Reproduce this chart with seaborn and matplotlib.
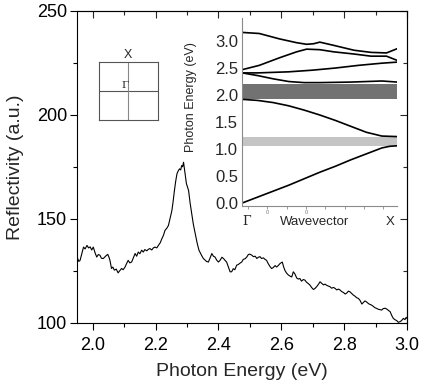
import matplotlib
matplotlib.use("Agg")
import matplotlib.pyplot as plt
import seaborn as sns
import pandas as pd

# ---------------- data ----------------
spec_energy = [1.950,1.952,1.956,1.960,1.965,1.971,1.976,1.982,1.987,1.992,1.997,2.002,2.008,2.013,2.018,2.023,2.028,2.034,2.041,2.048,
 2.052,2.055,2.060,2.064,2.069,2.075,2.081,2.086,2.092,2.097,2.103,2.108,2.113,2.118,2.124,2.130,2.135,2.140,2.145,2.150,
 2.156,2.161,2.166,2.172,2.177,2.182,2.188,2.193,2.198,2.204,2.209,2.215,2.220,2.225,2.230,2.236,2.241,2.246,2.252,2.256,
 2.260,2.264,2.268,2.272,2.276,2.280,2.283,2.286,2.289,2.292,2.294,2.298,2.301,2.305,2.310,2.315,2.320,2.326,2.332,2.338,
 2.341,2.346,2.352,2.357,2.362,2.368,2.373,2.379,2.384,2.389,2.395,2.400,2.405,2.411,2.416,2.421,2.426,2.431,2.437,2.442,
 2.447,2.452,2.458,2.463,2.468,2.474,2.479,2.485,2.490,2.495,2.500,2.506,2.511,2.517,2.522,2.527,2.532,2.537,2.543,2.548,
 2.553,2.558,2.564,2.569,2.574,2.580,2.585,2.590,2.596,2.603,2.607,2.611,2.616,2.622,2.627,2.633,2.638,2.643,2.649,2.654,
 2.659,2.664,2.670,2.675,2.680,2.686,2.691,2.696,2.702,2.707,2.712,2.718,2.723,2.728,2.734,2.739,2.744,2.750,2.755,2.760,
 2.766,2.771,2.776,2.782,2.787,2.792,2.798,2.803,2.808,2.813,2.818,2.824,2.829,2.834,2.840,2.845,2.850,2.856,2.861,2.866,
 2.871,2.877,2.882,2.887,2.893,2.898,2.903,2.908,2.914,2.919,2.924,2.930,2.935,2.940,2.946,2.951,2.956,2.961,2.967,2.972,
 2.977,2.982,2.988,2.993,2.997,3.000]
spec_refl = [133.5,131.0,129.5,130.0,133.0,136.4,135.5,137.2,136.0,136.5,135.0,136.4,133.5,131.6,132.8,132.5,131.0,130.9,132.0,132.9,
 131.5,130.0,126.1,126.8,125.3,125.8,124.0,125.0,126.1,125.5,126.8,128.5,130.0,128.8,129.2,131.5,133.3,132.0,134.0,133.2,
 134.9,134.0,135.2,134.6,135.3,135.7,135.0,136.0,136.4,136.0,137.2,138.5,140.4,142.0,144.4,145.5,146.8,150.0,154.0,158.5,
 163.6,168.0,171.6,173.0,174.0,173.5,175.6,175.0,177.2,174.0,171.6,167.0,165.5,163.6,157.5,152.4,147.5,142.9,138.5,134.9,
 134.0,132.5,130.9,130.2,129.5,129.2,131.0,133.3,132.0,131.6,130.0,129.2,130.0,131.5,130.9,130.0,129.2,127.0,124.5,124.5,
 126.0,125.5,127.7,128.0,128.6,129.2,130.5,130.8,131.6,132.8,133.0,132.5,131.8,132.0,130.9,131.5,131.8,130.9,131.2,130.5,
 130.0,128.5,127.0,126.1,126.5,127.5,126.8,127.5,128.5,129.2,127.0,125.3,124.0,123.0,122.5,122.0,124.5,123.5,121.5,121.0,
 121.3,120.0,120.8,120.5,119.5,118.8,118.1,117.0,116.0,116.5,117.3,118.5,119.7,119.0,118.2,118.6,118.0,117.6,117.3,116.6,
 117.0,116.5,115.8,116.2,115.7,115.0,114.5,113.8,114.3,115.2,114.9,114.0,113.3,112.8,112.0,111.7,110.8,109.0,109.8,110.5,
 110.0,109.2,108.8,108.5,107.8,107.2,106.9,106.5,106.3,106.1,106.8,107.0,106.6,106.0,105.3,103.5,102.1,101.5,101.0,100.2,
 100.5,101.0,102.1,101.5,102.6,102.0]

main_xticks = [2.0, 2.2, 2.4, 2.6, 2.8, 3.0]
main_xtick_labels = ["2.0", "2.2", "2.4", "2.6", "2.8", "3.0"]
main_yticks = [100, 150, 200, 250]

# photonic band structure (inset), wavevector from Gamma (0) to X (1)
band1_k = [0.0, 0.11, 0.24, 0.35, 0.415, 0.46, 0.50, 0.59, 0.72, 0.83, 0.93, 1.0]
band1_e = [3.16, 3.14, 3.04, 2.97, 2.94, 2.95, 2.98, 2.92, 2.83, 2.79, 2.78, 2.86]
band2_k = [0.0, 0.11, 0.24, 0.35, 0.415, 0.50, 0.59, 0.72, 0.83, 0.93, 1.0]
band2_e = [2.47, 2.55, 2.69, 2.80, 2.85, 2.84, 2.80, 2.76, 2.72, 2.72, 2.64]
band3_k = [0.0, 0.1, 0.3, 0.45, 0.6, 0.75, 0.9, 1.0]
band3_e = [2.41, 2.41, 2.43, 2.46, 2.50, 2.55, 2.59, 2.61]
band4_k = [0.0, 0.1, 0.2, 0.3, 0.4, 0.5, 0.7, 0.9, 1.0]
band4_e = [2.41, 2.36, 2.30, 2.25, 2.23, 2.23, 2.24, 2.26, 2.24]
band5_k = [0.0, 0.1, 0.2, 0.3, 0.4, 0.5, 0.6, 0.7, 0.8, 0.9, 1.0]
band5_e = [1.92, 1.90, 1.86, 1.80, 1.72, 1.63, 1.53, 1.42, 1.31, 1.24, 1.23]
band6_k = [0.0, 0.1, 0.2, 0.3, 0.4, 0.5, 0.6, 0.7, 0.8, 0.9, 0.95, 1.0]
band6_e = [0.0, 0.11, 0.22, 0.33, 0.45, 0.57, 0.68, 0.80, 0.91, 1.02, 1.05, 1.06]
gap_full = (1.92, 2.20)      # dark grey stop band
gap_partial = (1.06, 1.22)   # light grey stop band
inset_yticks = [0.0, 0.5, 1.0, 1.5, 2.0, 2.5, 3.0]
inset_xticks = [0.036, 0.161, 0.286, 0.41, 0.536, 0.66, 0.786, 0.91]

# ---------------- style ----------------
sns.set_style("ticks")
plt.rcParams['font.family'] = ['Liberation Sans', 'DejaVu Sans']
plt.rcParams['axes.linewidth'] = 0.8

fig = plt.figure(figsize=(4.25, 3.87), dpi=100)

# main axes
ax = fig.add_axes([0.181, 0.166, 0.777, 0.806])
sns.lineplot(x=spec_energy, y=spec_refl, ax=ax, color='black', lw=0.8,
             sort=False, estimator=None)
ax.set_xlim(1.95, 3.0)
ax.set_ylim(100, 250)
ax.set_xticks(main_xticks)
ax.set_xticklabels(main_xtick_labels)
ax.set_xticks([2.1, 2.3, 2.5, 2.7, 2.9], minor=True)
ax.set_yticks(main_yticks)
ax.set_yticks([125, 175, 225], minor=True)
for s in ax.spines.values():
    s.set_color('black')
    s.set_linewidth(0.8)
ax.tick_params(which='major', direction='out', length=5, width=0.8,
               labelsize=13, colors='black', pad=2)
ax.tick_params(axis='x', which='major', pad=5)
ax.tick_params(which='minor', direction='out', length=3, width=0.8, colors='black')
ax.set_xlabel("Photon Energy (eV)", fontsize=14, labelpad=7)
ax.set_ylabel("Reflectivity (a.u.)", fontsize=14, labelpad=9)

top = ax.secondary_xaxis('top')
top.set_xticks(main_xticks)
top.set_xticks([2.1, 2.3, 2.5, 2.7, 2.9], minor=True)
top.tick_params(which='both', direction='in', labeltop=False, width=0.8)
top.tick_params(which='major', length=5)
top.tick_params(which='minor', length=3)
right = ax.secondary_yaxis('right')
right.set_yticks(main_yticks)
right.set_yticks([125, 175, 225], minor=True)
right.tick_params(which='both', direction='in', labelright=False, width=0.8)
right.tick_params(which='major', length=5)
right.tick_params(which='minor', length=3)

# Brillouin zone sketch
bz = fig.add_axes([0.233, 0.690, 0.138, 0.150])
bz.set_xlim(-1, 1); bz.set_ylim(-1, 1)
bz.set_xticks([]); bz.set_yticks([])
for s in bz.spines.values():
    s.set_color('#555555'); s.set_linewidth(0.8)
bz.axhline(0, color='#555555', lw=0.8)
bz.axvline(-0.02, color='#888888', lw=0.8)
bz.text(-0.02, 1.02, "X", ha='center', va='bottom', fontsize=9)
bz.text(-0.1, 0.02, "Γ", ha='center', va='bottom', fontsize=7.5, family=['DejaVu Serif'])
bz.patch.set_facecolor('white')

# inset
axin = fig.add_axes([0.570, 0.4685, 0.365, 0.484])
axin.patch.set_alpha(0)
axin.axhspan(gap_full[0], gap_full[1], xmin=0, xmax=1, color='#727272', lw=0)
axin.axhspan(gap_partial[0], gap_partial[1], xmin=0, xmax=1, color='#c4c4c4', lw=0)
for kk, ee in [(band1_k, band1_e), (band2_k, band2_e), (band3_k, band3_e),
               (band4_k, band4_e), (band5_k, band5_e), (band6_k, band6_e)]:
    sns.lineplot(x=kk, y=ee, ax=axin, color='black', lw=1.2, sort=False, estimator=None)
axin.set_xlim(0, 1)
axin.set_ylim(-0.05, 3.42)
axin.set_yticks(inset_yticks)
axin.set_yticklabels([f"{v:.1f}" for v in inset_yticks])
axin.set_xticks(inset_xticks)
axin.set_xticklabels([])
axin.spines['top'].set_visible(False)
axin.spines['right'].set_visible(False)
axin.spines['left'].set_color('#8a8a8a')
axin.spines['bottom'].set_color('#8a8a8a')
axin.tick_params(axis='y', length=0, labelsize=12, pad=3)
axin.tick_params(axis='x', length=2.5, width=0.6, color='#8a8a8a', direction='out')
axin.set_ylabel("Photon Energy (eV)", fontsize=9)
axin.yaxis.set_label_coords(-0.29, 0.58)
tr = axin.get_xaxis_transform()
axin.text(0.03, -0.085, "Γ", transform=tr, ha='center', va='center', fontsize=9,
          family=['DejaVu Serif'])
axin.text(0.469, -0.085, "Wavevector", transform=tr, ha='center', va='center', fontsize=9.5)
axin.text(0.953, -0.085, "X", transform=tr, ha='center', va='center', fontsize=9.5)
for xv in [inset_xticks[1], inset_xticks[3]]:
    axin.text(xv, -0.035, "0", transform=tr, ha='center', va='center', fontsize=4,
              color='#777777')

fig.savefig("out.png", dpi=100)
